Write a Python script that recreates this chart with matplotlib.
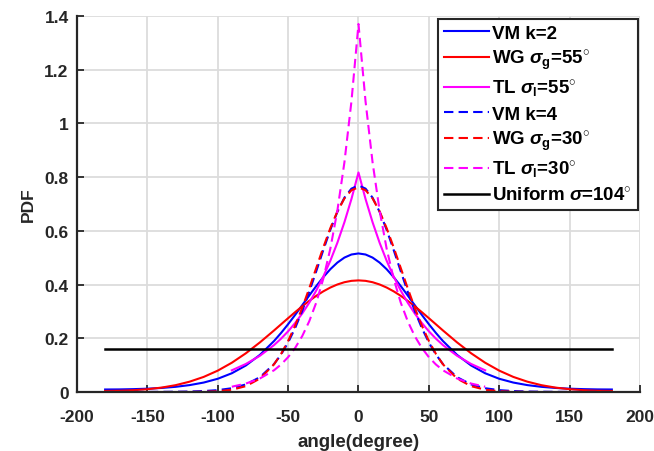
import numpy as np
import matplotlib
matplotlib.use("Agg")
import matplotlib.pyplot as plt

plt.rcParams['font.family'] = ['Liberation Sans', 'DejaVu Sans']
plt.rcParams['font.weight'] = 'bold'
plt.rcParams['axes.unicode_minus'] = False
plt.rcParams['mathtext.fontset'] = 'custom'
plt.rcParams['mathtext.rm'] = 'Liberation Sans:bold'
plt.rcParams['mathtext.it'] = 'Liberation Sans:italic:bold'
plt.rcParams['mathtext.bf'] = 'Liberation Sans:bold'

# angle grid (degrees) for the full-circle curves
angle = [-180, -170, -160, -150, -140, -130, -120, -110, -100, -90, -80, -70, -60,
         -55, -50, -45, -40, -35, -30, -25, -20, -15, -10, -5, 0, 5, 10, 15, 20, 25,
         30, 35, 40, 45, 50, 55, 60, 70, 80, 90, 100, 110, 120, 130, 140, 150, 160,
         170, 180]

vm_k2 = [0.0094, 0.0097, 0.0107, 0.0124, 0.0151, 0.0193, 0.0257, 0.0352, 0.0493, 0.0698,
         0.0988, 0.1384, 0.1898, 0.2199, 0.2525, 0.2872, 0.3231, 0.3593, 0.3946, 0.4277,
         0.4573, 0.4819, 0.5005, 0.5120, 0.5159, 0.5120, 0.5005, 0.4819, 0.4573, 0.4277,
         0.3946, 0.3593, 0.3231, 0.2872, 0.2525, 0.2199, 0.1898, 0.1384, 0.0988, 0.0698,
         0.0493, 0.0352, 0.0257, 0.0193, 0.0151, 0.0124, 0.0107, 0.0097, 0.0094]

wg_55 = [0.0039, 0.0046, 0.0066, 0.0104, 0.0164, 0.0254, 0.0385, 0.0562, 0.0796, 0.1090,
         0.1443, 0.1849, 0.2292, 0.2521, 0.2749, 0.2974, 0.3190, 0.3394, 0.3582, 0.3748,
         0.3890, 0.4004, 0.4088, 0.4139, 0.4156, 0.4139, 0.4088, 0.4004, 0.3890, 0.3748,
         0.3582, 0.3394, 0.3190, 0.2974, 0.2749, 0.2521, 0.2292, 0.1849, 0.1443, 0.1090,
         0.0796, 0.0562, 0.0385, 0.0254, 0.0164, 0.0104, 0.0066, 0.0046, 0.0039]

vm_k4 = [0.0003, 0.0003, 0.0003, 0.0004, 0.0007, 0.0011, 0.0019, 0.0036, 0.0070, 0.0141,
         0.0282, 0.0553, 0.1041, 0.1397, 0.1842, 0.2383, 0.3016, 0.3730, 0.4499, 0.5286,
         0.6041, 0.6709, 0.7236, 0.7573, 0.7689, 0.7573, 0.7236, 0.6709, 0.6041, 0.5286,
         0.4499, 0.3730, 0.3016, 0.2383, 0.1842, 0.1397, 0.1041, 0.0553, 0.0282, 0.0141,
         0.0070, 0.0036, 0.0019, 0.0011, 0.0007, 0.0004, 0.0003, 0.0003, 0.0003]

wg_30 = [0.0, 0.0, 0.0, 0.0, 0.0, 0.0001, 0.0003, 0.0009, 0.0029, 0.0085,
         0.0218, 0.0501, 0.1031, 0.1419, 0.1900, 0.2474, 0.3132, 0.3858, 0.4621, 0.5384,
         0.6101, 0.6724, 0.7207, 0.7514, 0.7619, 0.7514, 0.7207, 0.6724, 0.6101, 0.5384,
         0.4621, 0.3858, 0.3132, 0.2474, 0.1900, 0.1419, 0.1031, 0.0501, 0.0218, 0.0085,
         0.0029, 0.0009, 0.0003, 0.0001, 0.0, 0.0, 0.0, 0.0, 0.0]

# truncated laplacian only covers -90..90
tl_angle = [-90, -80, -70, -60, -55, -50, -45, -40, -35, -30, -25, -20, -15, -10, -5, 0,
            5, 10, 15, 20, 25, 30, 35, 40, 45, 50, 55, 60, 70, 80, 90]

tl_55 = [0.0808, 0.1045, 0.1351, 0.1747, 0.1987, 0.2260, 0.2570, 0.2922, 0.3323, 0.3779,
         0.4298, 0.4888, 0.5558, 0.6321, 0.7188, 0.8174, 0.7188, 0.6321, 0.5558, 0.4888,
         0.4298, 0.3779, 0.3323, 0.2922, 0.2570, 0.2260, 0.1987, 0.1747, 0.1351, 0.1045,
         0.0808]

tl_30 = [0.0197, 0.0315, 0.0505, 0.0810, 0.1025, 0.1298, 0.1642, 0.2079, 0.2632, 0.3331,
         0.4217, 0.5337, 0.6756, 0.8552, 1.0825, 1.3702, 1.0825, 0.8552, 0.6756, 0.5337,
         0.4217, 0.3331, 0.2632, 0.2079, 0.1642, 0.1298, 0.1025, 0.0810, 0.0505, 0.0315,
         0.0197]

uni_angle = [-180, 180]
uniform = [0.1592, 0.1592]

labels = ['VM k=2',
          r'WG $\sigma_{\mathrm{g}}$=55$^{\circ}$',
          r'TL $\sigma_{\mathrm{l}}$=55$^{\circ}$',
          'VM k=4',
          r'WG $\sigma_{\mathrm{g}}$=30$^{\circ}$',
          r'TL $\sigma_{\mathrm{l}}$=30$^{\circ}$',
          r'Uniform $\sigma$=104$^{\circ}$']

fig = plt.figure(figsize=(6.54, 4.52), dpi=100)
ax = fig.add_axes([0.1177, 0.1305, 0.8609, 0.8319])

lw = 1.5
dash = (0, (4.5, 2.5))
ax.plot(angle, vm_k2, color='#0000ff', lw=lw, label=labels[0])
ax.plot(angle, wg_55, color='#ff0000', lw=lw, label=labels[1])
ax.plot(tl_angle, tl_55, color='#ff00ff', lw=lw, label=labels[2])
ax.plot(angle, vm_k4, color='#0000ff', lw=lw, ls=dash, label=labels[3])
ax.plot(angle, wg_30, color='#ff0000', lw=lw, ls=dash, label=labels[4])
ax.plot(tl_angle, tl_30, color='#ff00ff', lw=lw, ls=dash, label=labels[5])
ax.plot(uni_angle, uniform, color='k', lw=lw + 0.3, label=labels[6])

ax.set_xlim(-200, 200)
ax.set_ylim(0, 1.4)
ax.set_xticks(np.arange(-200, 201, 50))
ax.set_yticks([0, 0.2, 0.4, 0.6, 0.8, 1.0, 1.2, 1.4])
ax.set_yticklabels(['0', '0.2', '0.4', '0.6', '0.8', '1', '1.2', '1.4'])

ax.grid(True, color='#dcdcdc', lw=1.3)
ax.set_axisbelow(True)
for s in ['top', 'right']:
    ax.spines[s].set_visible(False)
for s in ['left', 'bottom']:
    ax.spines[s].set_linewidth(1.6)
    ax.spines[s].set_color('#262626')
ax.tick_params(direction='in', length=5, width=1.3, colors='#262626', labelsize=12.5)
ax.tick_params(axis='x', pad=12)
ax.tick_params(axis='y', pad=6)

ax.set_xlabel('angle(degree)', fontsize=13.5, fontweight='bold', color='#262626', labelpad=7)
ax.set_ylabel('PDF', fontsize=12.5, fontweight='bold', color='#262626', labelpad=6)

leg = ax.legend(loc='upper right', bbox_to_anchor=(0.996, 0.992), borderaxespad=0,
                fontsize=13.5, frameon=True, fancybox=False, framealpha=1,
                handlelength=2.4, handletextpad=0.2, labelspacing=0.32,
                borderpad=0.3)
leg.get_frame().set_edgecolor('#262626')
leg.get_frame().set_linewidth(1.5)

fig.savefig('out.png', dpi=100)
